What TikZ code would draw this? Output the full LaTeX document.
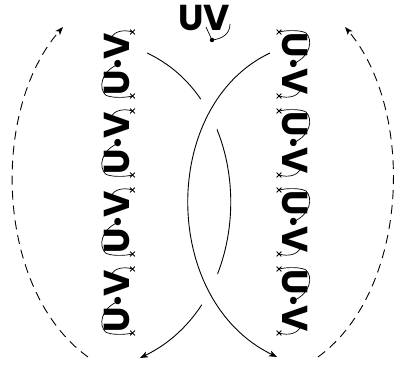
\documentclass[tikz,border=0pt]{standalone}
\usepackage{fontspec}
\newfontfamily\uvfont{Poppins}
\usetikzlibrary{arrows.meta,shapes.misc}

\tikzset{
  strand/.style = {line width=0.7pt},
  xmark/.style = {cross out, draw, line width=0.8pt, minimum size=4pt, inner sep=0pt},
  uvtext/.style = {inner sep=0pt, transform shape, font=\uvfont\bfseries\fontsize{36}{36}\selectfont},
  knot/.style = {line width=0.9pt, -{Stealth[length=8pt,width=6pt,inset=2pt]}},
  orbit/.style = {line width=0.9pt, dash pattern=on 9pt off 6pt, -{Stealth[length=8pt,width=6pt,inset=2pt]}},
  uvlabel/.pic = {
    \node[uvtext] (-txt) at (0,0) {U·V};
    \coordinate (-dot) at (0,-2);
    \coordinate (-arm) at (27,5);
    \node[xmark] (-xa) at (-32,-16) {};
    \node[xmark] (-xb) at (32,-16) {};
    \draw[strand] (-dot) .. controls (-8,16) and (-24,18) .. (-31,11)
      .. controls (-34,6) and (-34,-8) .. (-xa.center);
    \draw[strand] (-xb.center) .. controls (35,-6) and (32,2) .. (-arm);
  }
}

\begin{document}
\begin{tikzpicture}[x=1pt, y=1pt]
  \useasboundingbox (0,0) rectangle (405,367);

  % top word
  \node[uvtext] (uv) at (204,349) {UV};
  \node[circle, fill, inner sep=0pt, minimum size=4.5pt] (uvdot) at (212,327) {};
  \coordinate (uvl) at (206,340);
  \coordinate (uvr) at (230,343);
  \draw[strand] (uvl) -- (uvdot.center) .. controls (222,328) and (230,333) .. (uvr);

  % the two columns
  \foreach \n/\y in {1/303,2/224,3/145,4/66}{
    \pic[rotate=90] (left\n) at (116.5,\y) {uvlabel};
    \pic[rotate=-90] (right\n) at (295,\y) {uvlabel};
  }

  % crossing strands
  \coordinate (qa) at (147,314);
  \coordinate (qb) at (140,9);
  \coordinate (pa) at (270,314);
  \coordinate (pb) at (277,10);
  \draw[knot] (qa) .. controls (259,262) and (259,67) .. (qb);
  \draw[knot, preaction={draw=white, line width=28pt, -}] (pa) .. controls (160,262) and (160,67) .. (pb);

  % dashed returns
  \coordinate (la) at (88,10);
  \coordinate (lb) at (63,340);
  \coordinate (ra) at (318,10);
  \coordinate (rb) at (345,340);
  \draw[orbit] (la) .. controls (-5,77) and (-10,257) .. (lb);
  \draw[orbit] (ra) .. controls (410,77) and (415,257) .. (rb);
\end{tikzpicture}
\end{document}
